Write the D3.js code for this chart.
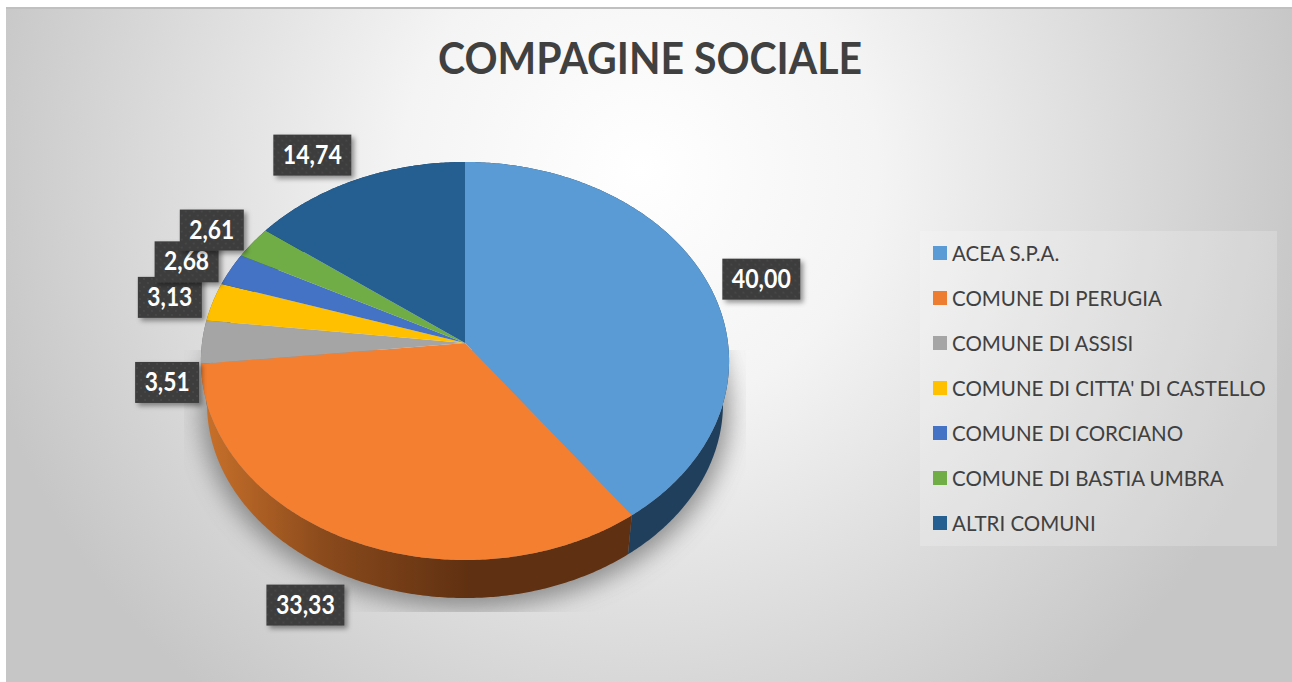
<!DOCTYPE html>
<html>
<head>
<meta charset="utf-8">
<script src="https://cdn.jsdelivr.net/npm/d3@7"></script>
<style>
  html, body { margin: 0; padding: 0; background: #fff; overflow: hidden; }
  text { font-family: Lato, "Open Sans", sans-serif; }
</style>
</head>
<body>
<div id="chart"></div>
<script>
// dati
const title = "COMPAGINE SOCIALE";
const soci = ["ACEA S.P.A.", "COMUNE DI PERUGIA", "COMUNE DI ASSISI", "COMUNE DI CITTA' DI CASTELLO", "COMUNE DI CORCIANO", "COMUNE DI BASTIA UMBRA", "ALTRI COMUNI"];
const quote = [40.00, 33.33, 3.51, 3.13, 2.68, 2.61, 14.74];
const colori = ["#5b9bd5", "#f47f30", "#a5a5a5", "#ffc000", "#4472c4", "#70ad47", "#255e91"];
const coloriLegenda = ["#5b9bd5", "#ed7d31", "#a5a5a5", "#ffc000", "#4472c4", "#70ad47", "#255e91"];

// spostamento manuale delle etichette rispetto al bordo della fetta (come in Excel)
const spostaEtichette = [[53, -5], [-43, 65], [-35, 40], [-43, -5], [-44, -8], [-41, -13], [-44, -25]];

const W = 1292, H = 682;
const svg = d3.select("#chart").append("svg").attr("width", W).attr("height", H).style("display", "block");
const defs = svg.append("defs");

// sfondo
const bg = defs.append("radialGradient").attr("id", "bg")
    .attr("gradientUnits", "userSpaceOnUse")
    .attr("cx", 640).attr("cy", 170).attr("r", 680);
bg.append("stop").attr("offset", "0").attr("stop-color", "#ffffff");
bg.append("stop").attr("offset", "0.35").attr("stop-color", "#f4f4f4");
bg.append("stop").attr("offset", "0.72").attr("stop-color", "#dadada");
bg.append("stop").attr("offset", "1").attr("stop-color", "#c6c6c6");

svg.append("rect").attr("x", 6).attr("y", 8).attr("width", W - 6).attr("height", H - 8).attr("fill", "url(#bg)");
svg.append("rect").attr("x", 6).attr("y", 7).attr("width", W - 6).attr("height", 2).attr("fill", "#c0c0c0");

svg.append("text")
    .attr("x", 650).attr("y", 74)
    .attr("text-anchor", "middle")
    .attr("textLength", 424).attr("lengthAdjust", "spacingAndGlyphs")
    .style("font-size", "44px").style("font-weight", "bold")
    .attr("fill", "#404040")
    .text(title);

// torta in prospettiva: cerchio unitario proiettato
const apice = { x: 465, y: 343 };
const prosp = -0.0905, bx = 263, by = 197.4;
const spessore = 43, scalaBase = 0.977;

function proietta(ang, scala, dy) {
    const u = Math.sin(ang), v = -Math.cos(ang);
    const w = 1 + prosp * v;
    return [apice.x + scala * bx * u / w, apice.y + dy + scala * by * v / w];
}
function arco(a0, a1, scala, dy) {
    const n = Math.max(2, Math.ceil((a1 - a0) / 0.01));
    return d3.range(n + 1).map(i => proietta(a0 + (a1 - a0) * i / n, scala, dy));
}

const fette = d3.pie().sort(null).value(d => d)(quote);
const linea = d3.line();

// ombra sotto la torta
defs.append("filter").attr("id", "sfoca")
    .attr("x", "-20%").attr("y", "-20%").attr("width", "140%").attr("height", "140%")
    .append("feGaussianBlur").attr("stdDeviation", 12);
defs.append("clipPath").attr("id", "clipOmbra")
    .append("rect").attr("x", 184).attr("y", 350).attr("width", 562).attr("height", 262);
svg.append("g").attr("clip-path", "url(#clipOmbra)")
    .append("path")
    .attr("d", linea(arco(0, 2 * Math.PI, 1, spessore + 5)) + "Z")
    .attr("fill", "#666")
    .attr("opacity", 0.7)
    .attr("filter", "url(#sfoca)");

// fianco
const sfuma = defs.append("linearGradient").attr("id", "fiancoArancio")
    .attr("gradientUnits", "userSpaceOnUse")
    .attr("x1", 205).attr("x2", 470).attr("y1", 0).attr("y2", 0);
sfuma.append("stop").attr("offset", "0").attr("stop-color", "#c8702a");
sfuma.append("stop").attr("offset", "0.45").attr("stop-color", "#8a4a1c");
sfuma.append("stop").attr("offset", "1").attr("stop-color", "#5f3011");

const fianchi = ["#1f3f5c", "url(#fiancoArancio)", "#6f6f6f", "#8a6a00", "#2a4477", "#43682b", "#16395a"];
svg.append("g").selectAll("path")
    .data(fette)
    .join("path")
    .attr("d", d => {
        const sopra = arco(d.startAngle, d.endAngle, 1, 0);
        const sotto = arco(d.startAngle, d.endAngle, scalaBase, spessore).reverse();
        return linea(sopra.concat(sotto)) + "Z";
    })
    .attr("fill", (d, i) => fianchi[i]);

// faccia superiore
svg.append("g").selectAll("path")
    .data(fette)
    .join("path")
    .attr("d", d => linea([[apice.x, apice.y]].concat(arco(d.startAngle, d.endAngle, 1, 0))) + "Z")
    .attr("fill", (d, i) => colori[i]);

// etichette
const punti = defs.append("pattern").attr("id", "punti")
    .attr("patternUnits", "userSpaceOnUse").attr("width", 8).attr("height", 8);
punti.append("rect").attr("width", 8).attr("height", 8).attr("fill", "#3d3d3d");
punti.append("circle").attr("cx", 2).attr("cy", 2).attr("r", 0.8).attr("fill", "#525252");
punti.append("circle").attr("cx", 6).attr("cy", 6).attr("r", 0.8).attr("fill", "#525252");

const ombraEt = defs.append("filter").attr("id", "ombraEt")
    .attr("x", "-20%").attr("y", "-20%").attr("width", "150%").attr("height", "160%");
ombraEt.append("feDropShadow").attr("dx", 3).attr("dy", 3).attr("stdDeviation", 2.5)
    .attr("flood-color", "#000").attr("flood-opacity", 0.4);

const formato = v => v.toFixed(2).replace(".", ",");
const etichette = svg.append("g").selectAll("g")
    .data(fette)
    .join("g")
    .attr("transform", (d, i) => {
        const p = proietta((d.startAngle + d.endAngle) / 2, 1, 0);
        return `translate(${p[0] + spostaEtichette[i][0]},${p[1] + spostaEtichette[i][1]})`;
    });
etichette.append("rect")
    .attr("x", d => d.value >= 10 ? -39 : -32)
    .attr("y", -20)
    .attr("width", d => d.value >= 10 ? 78 : 64)
    .attr("height", 41)
    .attr("fill", "url(#punti)")
    .attr("filter", "url(#ombraEt)");
etichette.append("text")
    .attr("text-anchor", "middle")
    .attr("y", 9)
    .attr("textLength", d => d.value >= 10 ? 59 : 45)
    .attr("lengthAdjust", "spacingAndGlyphs")
    .style("font-size", "26px").style("font-weight", "bold")
    .attr("fill", "#fff")
    .text(d => formato(d.value));

// legenda
const riga = d3.scalePoint().domain(soci).range([253, 523]);
svg.append("rect")
    .attr("x", 920).attr("y", 231).attr("width", 357).attr("height", 315)
    .attr("fill", "#fff").attr("opacity", 0.2);
const voci = svg.append("g").selectAll("g")
    .data(soci)
    .join("g")
    .attr("transform", d => `translate(933,${riga(d)})`);
voci.append("rect")
    .attr("y", -7).attr("width", 14).attr("height", 14)
    .attr("fill", (d, i) => coloriLegenda[i]);
voci.append("text")
    .attr("x", 19).attr("y", 8)
    .style("font-size", "20.5px")
    .attr("fill", "#404040")
    .text(d => d);
</script>
</body>
</html>
